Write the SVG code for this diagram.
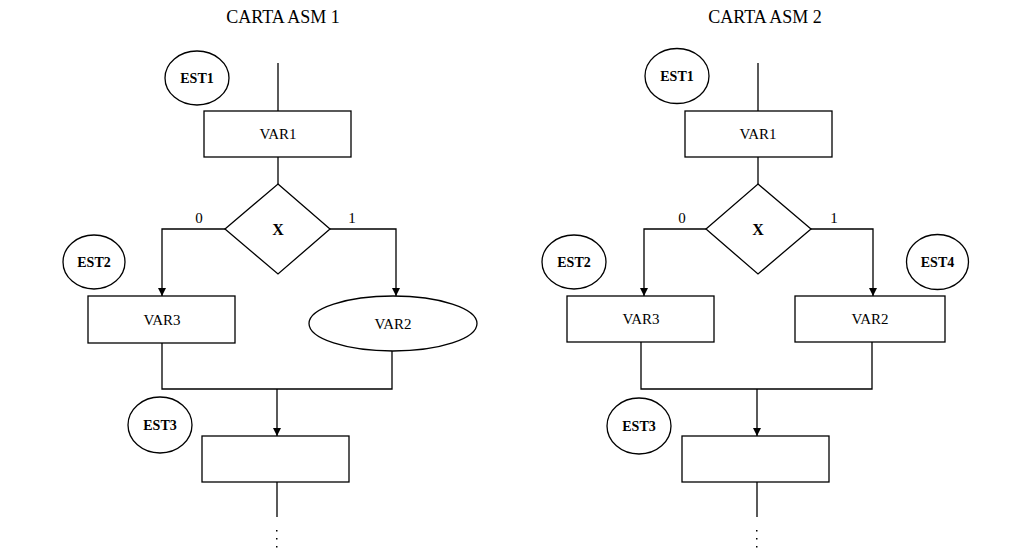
<svg xmlns="http://www.w3.org/2000/svg" width="1032" height="558" viewBox="0 0 1032 558">
<style>
.s{fill:#fff;stroke:#000;stroke-width:1.3}
.c{fill:none;stroke:#000;stroke-width:1.3}
.t{font-family:"Liberation Serif",serif;font-size:18px;text-anchor:middle;fill:#000}
.v{font-family:"Liberation Serif",serif;font-size:15px;text-anchor:middle;fill:#000}
.e{font-family:"Liberation Serif",serif;font-size:14px;font-weight:bold;text-anchor:middle;fill:#000}
.b{font-family:"Liberation Serif",serif;font-size:15px;text-anchor:middle;fill:#000}
.x{font-family:"Liberation Serif",serif;font-size:16px;font-weight:bold;text-anchor:middle;fill:#000}
</style>
<defs>
<marker id="ar" markerWidth="10" markerHeight="10" refX="8" refY="4" orient="auto" markerUnits="userSpaceOnUse">
<path d="M0,0 L8,4 L0,8 Z" fill="#000"/>
</marker>
</defs>
<rect width="1032" height="558" fill="#fff"/>
<text class="t" x="283" y="23">CARTA ASM 1</text>
<text class="t" x="765" y="23">CARTA ASM 2</text>
<g id="connectors">
<path class="c" d="M278,63 V111"/>
<path class="c" d="M278,157 V184"/>
<path class="c" d="M225,229 H162 V296" marker-end="url(#ar)"/>
<path class="c" d="M330,229 H396 V296" marker-end="url(#ar)"/>
<path class="c" d="M162,343 V389 H392 V351"/>
<path class="c" d="M277,389 V436" marker-end="url(#ar)"/>
<path class="c" d="M277,482 V517"/>
<path class="c" d="M758,63 V111"/>
<path class="c" d="M758,157 V184"/>
<path class="c" d="M706,229 H644 V296" marker-end="url(#ar)"/>
<path class="c" d="M811,229 H873 V296" marker-end="url(#ar)"/>
<path class="c" d="M641,342 V389 H872 V342"/>
<path class="c" d="M757,389 V436" marker-end="url(#ar)"/>
<path class="c" d="M757,482 V517"/>
<g fill="#000">
<rect x="276" y="530" width="1.5" height="1.5"/><rect x="276" y="538" width="1.5" height="1.5"/><rect x="276" y="546" width="1.5" height="1.5"/>
<rect x="756" y="530" width="1.5" height="1.5"/><rect x="756" y="538" width="1.5" height="1.5"/><rect x="756" y="546" width="1.5" height="1.5"/>
</g>
<text class="b" x="199" y="223">0</text>
<text class="b" x="352" y="223">1</text>
<text class="b" x="682" y="223">0</text>
<text class="b" x="834" y="223">1</text>
</g>
<g id="c1-est1"><ellipse class="s" cx="197" cy="78" rx="32" ry="27"/><text class="e" x="197" y="83">EST1</text></g>
<g id="c1-var1"><rect class="s" x="204" y="111" width="147" height="46"/><text class="v" x="278" y="139">VAR1</text></g>
<g id="c1-x"><polygon class="s" points="278,184 330,229 278,274 225,229"/><text class="x" x="278" y="235">X</text></g>
<g id="c1-est2"><ellipse class="s" cx="94" cy="262" rx="31" ry="27"/><text class="e" x="94" y="267">EST2</text></g>
<g id="c1-var3"><rect class="s" x="88" y="296" width="147" height="47"/><text class="v" x="162" y="325">VAR3</text></g>
<g id="c1-var2"><ellipse class="s" cx="393" cy="323.5" rx="84" ry="27.5"/><text class="v" x="393" y="329">VAR2</text></g>
<g id="c1-est3"><ellipse class="s" cx="160" cy="425" rx="32" ry="28"/><text class="e" x="160" y="430">EST3</text></g>
<g id="c1-next"><rect class="s" x="202" y="436" width="147" height="46"/></g>
<g id="c2-est1"><ellipse class="s" cx="677" cy="76" rx="32" ry="27.5"/><text class="e" x="677" y="81">EST1</text></g>
<g id="c2-var1"><rect class="s" x="685" y="111" width="147" height="46"/><text class="v" x="758" y="139">VAR1</text></g>
<g id="c2-x"><polygon class="s" points="758,184 811,229 758,274 706,229"/><text class="x" x="758" y="235">X</text></g>
<g id="c2-est2"><ellipse class="s" cx="574" cy="262" rx="32" ry="27"/><text class="e" x="574" y="267">EST2</text></g>
<g id="c2-est4"><ellipse class="s" cx="937.5" cy="262" rx="31" ry="27.5"/><text class="e" x="937.5" y="267">EST4</text></g>
<g id="c2-var3"><rect class="s" x="567" y="296" width="147" height="46"/><text class="v" x="641" y="324">VAR3</text></g>
<g id="c2-var2"><rect class="s" x="795" y="296" width="150" height="46"/><text class="v" x="870" y="324">VAR2</text></g>
<g id="c2-est3"><ellipse class="s" cx="639" cy="426" rx="32" ry="28"/><text class="e" x="639" y="431">EST3</text></g>
<g id="c2-next"><rect class="s" x="682" y="436" width="147" height="46"/></g>
</svg>
